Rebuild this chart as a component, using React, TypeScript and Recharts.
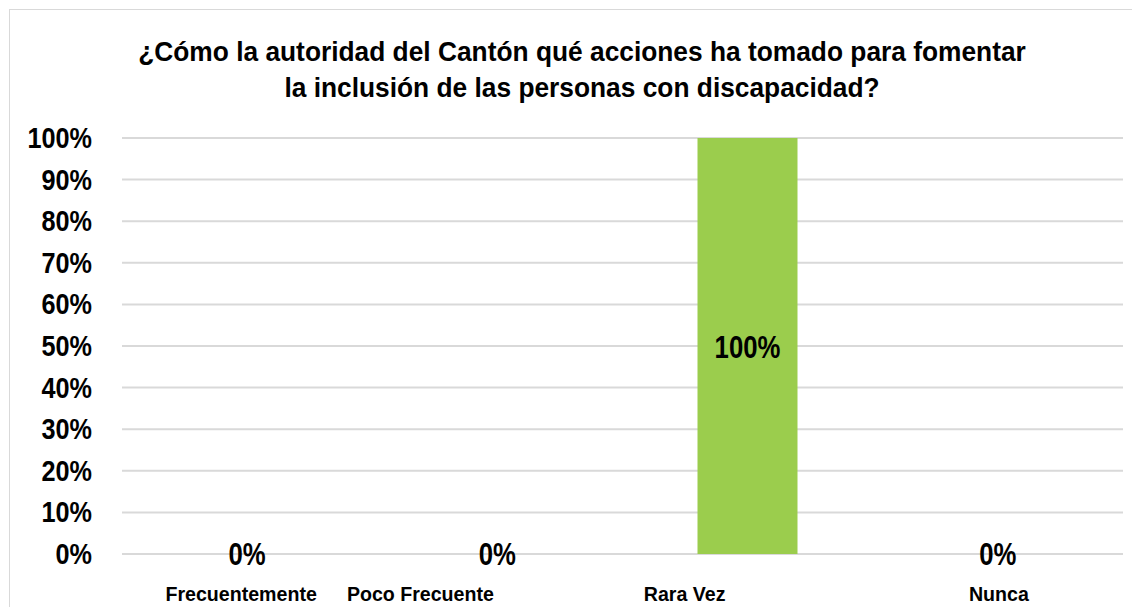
import { BarChart, Bar, XAxis, YAxis, CartesianGrid } from "recharts";

const CATEGORIES = ["Frecuentemente", "Poco Frecuente", "Rara Vez", "Nunca"];
const PERCENTS = [0, 0, 100, 0];
const Y_TICKS = [0, 10, 20, 30, 40, 50, 60, 70, 80, 90, 100];
const TITLE_LINES = [
  "¿Cómo la autoridad del Cantón qué acciones ha tomado para fomentar",
  "la inclusión de las personas con discapacidad?",
];

const FONT = "'Liberation Sans', Arial, sans-serif";
// the original labels sit a bit off their category centres
const TICK_SHIFT = [-6, -77, -63, 1];

const data = CATEGORIES.map((name, i) => ({ name, value: PERCENTS[i] }));

// bold text squeezed sideways, the numbers in the original use a narrow face
function NarrowText({ x, y, size, squeeze = 1, anchor = "middle", children }: any) {
  return (
    <text
      transform={`translate(${x},${y}) scale(${squeeze},1)`}
      textAnchor={anchor}
      fontFamily={FONT}
      fontWeight="bold"
      fontSize={size}
      fill="#000"
    >
      {children}
    </text>
  );
}

function CategoryTick(props: any) {
  const { x, y, payload, index } = props;
  return (
    <NarrowText x={x + (TICK_SHIFT[index] ?? 0)} y={y + 39} size={20} squeeze={0.98}>
      {payload.value}
    </NarrowText>
  );
}

function PercentTick(props: any) {
  const { x, y, payload } = props;
  return (
    <NarrowText x={x} y={y + 10} size={29} squeeze={0.87} anchor="end">
      {payload.value}%
    </NarrowText>
  );
}

function BarWithLabel(props: any) {
  const { x, y, width, height, value, fill } = props;
  const cx = x + width / 2;
  const ty = value > 0 ? y + height / 2 + 12 : y + 11;
  return (
    <g>
      {height > 0 && <rect x={x} y={y} width={width} height={height} fill={fill} />}
      <NarrowText x={cx} y={ty} size={31} squeeze={0.83}>
        {value}%
      </NarrowText>
    </g>
  );
}

export default function App() {
  return (
    <div
      style={{
        position: "relative",
        width: 1140,
        height: 620,
        marginLeft: 1,
        marginTop: 1,
        border: "1px solid #d9d9d9",
        background: "white",
      }}
    >
      <svg
        width={1140}
        height={120}
        style={{ position: "absolute", left: 0, top: 0 }}
      >
        {TITLE_LINES.map((line, i) => (
          <NarrowText key={i} x={572} y={51 + i * 36} size={27} squeeze={0.975}>
            {line}
          </NarrowText>
        ))}
      </svg>
      <div style={{ position: "absolute", left: 0, top: 0 }}>
        <BarChart
          width={1140}
          height={597}
          data={data}
          margin={{ top: 128, right: 27, bottom: 13, left: 0 }}
        >
          <CartesianGrid vertical={false} stroke="#d9d9d9" strokeWidth={2} />
          <XAxis
            dataKey="name"
            axisLine={false}
            tickLine={false}
            height={40}
            interval={0}
            tick={<CategoryTick />}
          />
          <YAxis
            width={112}
            domain={[0, 100]}
            ticks={Y_TICKS}
            interval={0}
            axisLine={false}
            tickLine={false}
            tickSize={0}
            tickMargin={30}
            tick={<PercentTick />}
          />
          <Bar
            dataKey="value"
            fill="#9BCD4D"
            barSize={100}
            isAnimationActive={false}
            shape={<BarWithLabel />}
          />
        </BarChart>
      </div>
    </div>
  );
}
